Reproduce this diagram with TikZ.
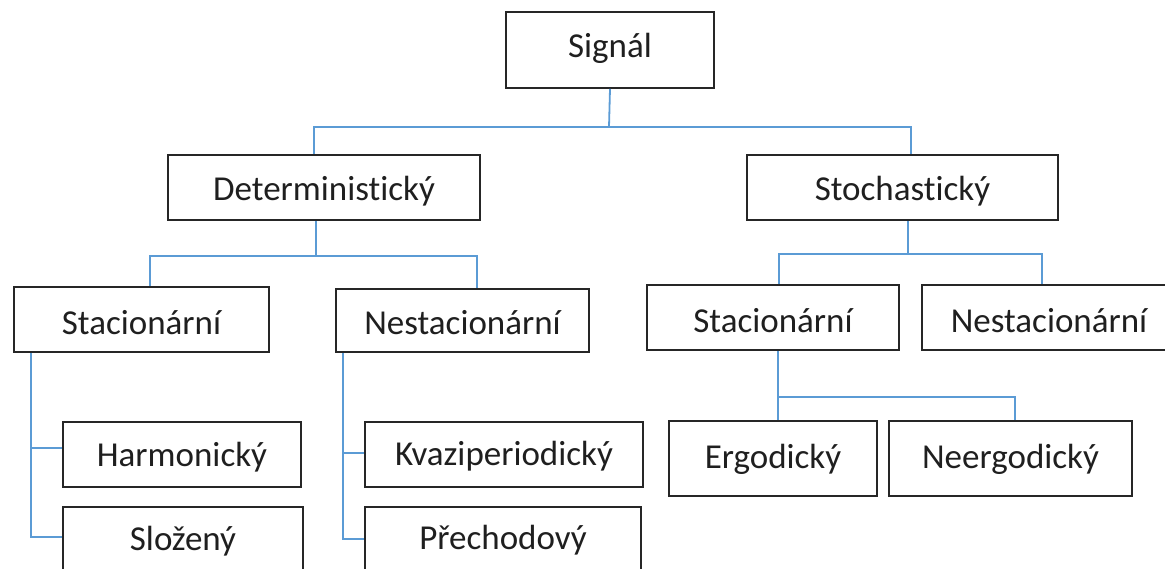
\documentclass[tikz,border=0pt]{standalone}
\usepackage{fontspec}
\setmainfont{Carlito}[Ligatures=NoCommon]
\definecolor{connblue}{HTML}{5B9BD5}
\definecolor{boxline}{HTML}{262626}
\newcommand\txtlow[2]{\raisebox{-#1pt}{#2}}
\begin{document}
\begin{tikzpicture}[x=1pt,y=-1pt,
  box/.style={draw=boxline,line width=1.6pt,inner sep=0pt,text height=0pt,text depth=0pt,
    font=\fontsize{35}{40}\selectfont,text=black!88},
  conn/.style={draw=connblue,line width=1.8pt}]
\useasboundingbox (0,0) rectangle (1165,569);
\clip (0,0) rectangle (1165,569);
% nodes
\node[box,minimum width=208pt,minimum height=76pt] (sig) at (610,50) {\txtlow{8}{Signál}};
\node[box,minimum width=312pt,minimum height=65pt] (det) at (324,187.5) {\txtlow{13.5}{Deterministický}};
\node[box,minimum width=311pt,minimum height=65pt] (sto) at (902.5,187.5) {\txtlow{13}{Stochastický}};
\node[box,minimum width=255pt,minimum height=65pt] (stL) at (141.5,319.5) {\txtlow{15.5}{Stacionární}};
\node[box,minimum width=253pt,minimum height=63pt] (nsL) at (462.5,320.5) {\txtlow{13.5}{Nestacionární}};
\node[box,minimum width=252pt,minimum height=65pt] (stR) at (773,317.5) {\txtlow{15.5}{Stacionární}};
\node[box,minimum width=254pt,minimum height=65pt] (nsR) at (1049,317.5) {\txtlow{15}{Nestacionární}};
\node[box,minimum width=208pt,minimum height=75pt] (erg) at (773,458.5) {\txtlow{9.5}{Ergodický}};
\node[box,minimum width=243pt,minimum height=75pt] (neg) at (1010.5,458.5) {\txtlow{9.5}{Neergodický}};
\node[box,minimum width=238pt,minimum height=65pt] (har) at (182,454.5) {\txtlow{11.5}{Harmonický}};
\node[box,minimum width=240pt,minimum height=65pt] (slo) at (183,539.5) {\txtlow{10.5}{Složený}};
\node[box,minimum width=278pt,minimum height=65pt] (kva) at (504,454.5) {\txtlow{10.5}{Kvaziperiodický}};
\node[box,minimum width=276pt,minimum height=65pt] (pre) at (503,539.5) {\txtlow{9.5}{Přechodový}};
% connectors
\coordinate (j1) at (609,127);
\draw[conn] (sig.south) -- (j1);
\draw[conn] ([xshift=-10pt]det.north) |- (j1) -| ([xshift=8.5pt]sto.north);
\coordinate (j2) at (316,256);
\draw[conn] ([xshift=-8pt]det.south) -- (j2);
\draw[conn] ([xshift=8.5pt]stL.north) |- (j2) -| ([xshift=14.5pt]nsL.north);
\coordinate (j3) at (908,254);
\draw[conn] ([xshift=5.5pt]sto.south) -- (j3);
\draw[conn] ([xshift=6pt]stR.north) |- (j3) -| ([xshift=-7pt]nsR.north);
\coordinate (j4) at (778,397);
\draw[conn] ([xshift=5pt]stR.south) -- ([xshift=5pt]erg.north);
\draw[conn] (j4) -| ([xshift=4.5pt]neg.north);
\coordinate (k1) at (31,448);
\coordinate (k2) at (31,537);
\draw[conn] ([xshift=-110.5pt]stL.south) -- (k2) -- (k2 -| slo.west);
\draw[conn] (k1) -- (k1 -| har.west);
\coordinate (k3) at (343,453);
\coordinate (k4) at (343,539);
\draw[conn] ([xshift=-119.5pt]nsL.south) -- (k4) -- (k4 -| pre.west);
\draw[conn] (k3) -- (k3 -| kva.west);
\end{tikzpicture}
\end{document}
